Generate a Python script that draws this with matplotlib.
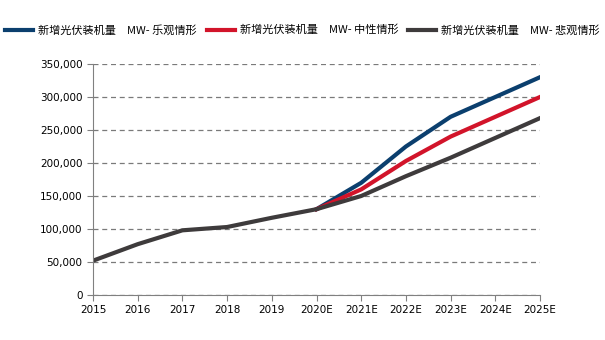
import matplotlib
matplotlib.use('Agg')
import matplotlib.pyplot as plt
from matplotlib.ticker import FuncFormatter

plt.rcParams['font.family'] = ['Noto Sans CJK SC', 'DejaVu Sans']

# Data
years = ['2015', '2016', '2017', '2018', '2019', '2020E',
         '2021E', '2022E', '2023E', '2024E', '2025E']
optimistic = [52000, 77000, 98000, 103000, 117000, 130000,
              170000, 225000, 270000, 300000, 330000]
neutral = [52000, 77000, 98000, 103000, 117000, 130000,
           160000, 203000, 240000, 270000, 300000]
pessimistic = [52000, 77000, 98000, 103000, 117000, 130000,
               150000, 180000, 208000, 238000, 268000]
labels = ['新增光伏装机量　MW- 乐观情形',
          '新增光伏装机量　MW- 中性情形',
          '新增光伏装机量　MW- 悲观情形']
colors = ['#0b3f6e', '#d2142a', '#3e3b3c']

fig = plt.figure(figsize=(6.05, 3.4), dpi=100)
ax = fig.add_axes([93 / 605, 1 - 295 / 340, (540 - 93) / 605, (295 - 64) / 340])

x = list(range(len(years)))
split = years.index('2020E')
# the shared history is drawn once by the last series
for i, (series, lab, col) in enumerate(zip([optimistic, neutral, pessimistic], labels, colors)):
    start = 0 if i == 2 else split
    ax.plot(x[start:], series[start:], color=col, lw=3, label=lab)

ax.set_xlim(0, len(years) - 1)
ax.set_ylim(0, 350000)
ax.set_yticks(range(0, 350001, 50000))
ax.yaxis.set_major_formatter(FuncFormatter(lambda v, p: f'{int(v):,}'))
ax.set_xticks(x)
ax.set_xticklabels(years)
for t in ax.get_xticklabels() + ax.get_yticklabels():
    t.set_family('DejaVu Sans')

ax.grid(axis='y', color='#7a7a7a', ls=(0, (4, 3)), lw=0.9)
ax.set_axisbelow(True)
for s in ['top', 'right']:
    ax.spines[s].set_visible(False)
for s in ['left', 'bottom']:
    ax.spines[s].set_color('#808080')
ax.tick_params(colors='#808080', labelcolor='black', labelsize=7.5, length=4)

fig.legend(loc='center', bbox_to_anchor=(0.5, 1 - 30 / 340), ncol=3, frameon=False,
           fontsize=8, handlelength=2.5, columnspacing=0.9, handletextpad=0.45)

fig.savefig('out.png', dpi=100)
